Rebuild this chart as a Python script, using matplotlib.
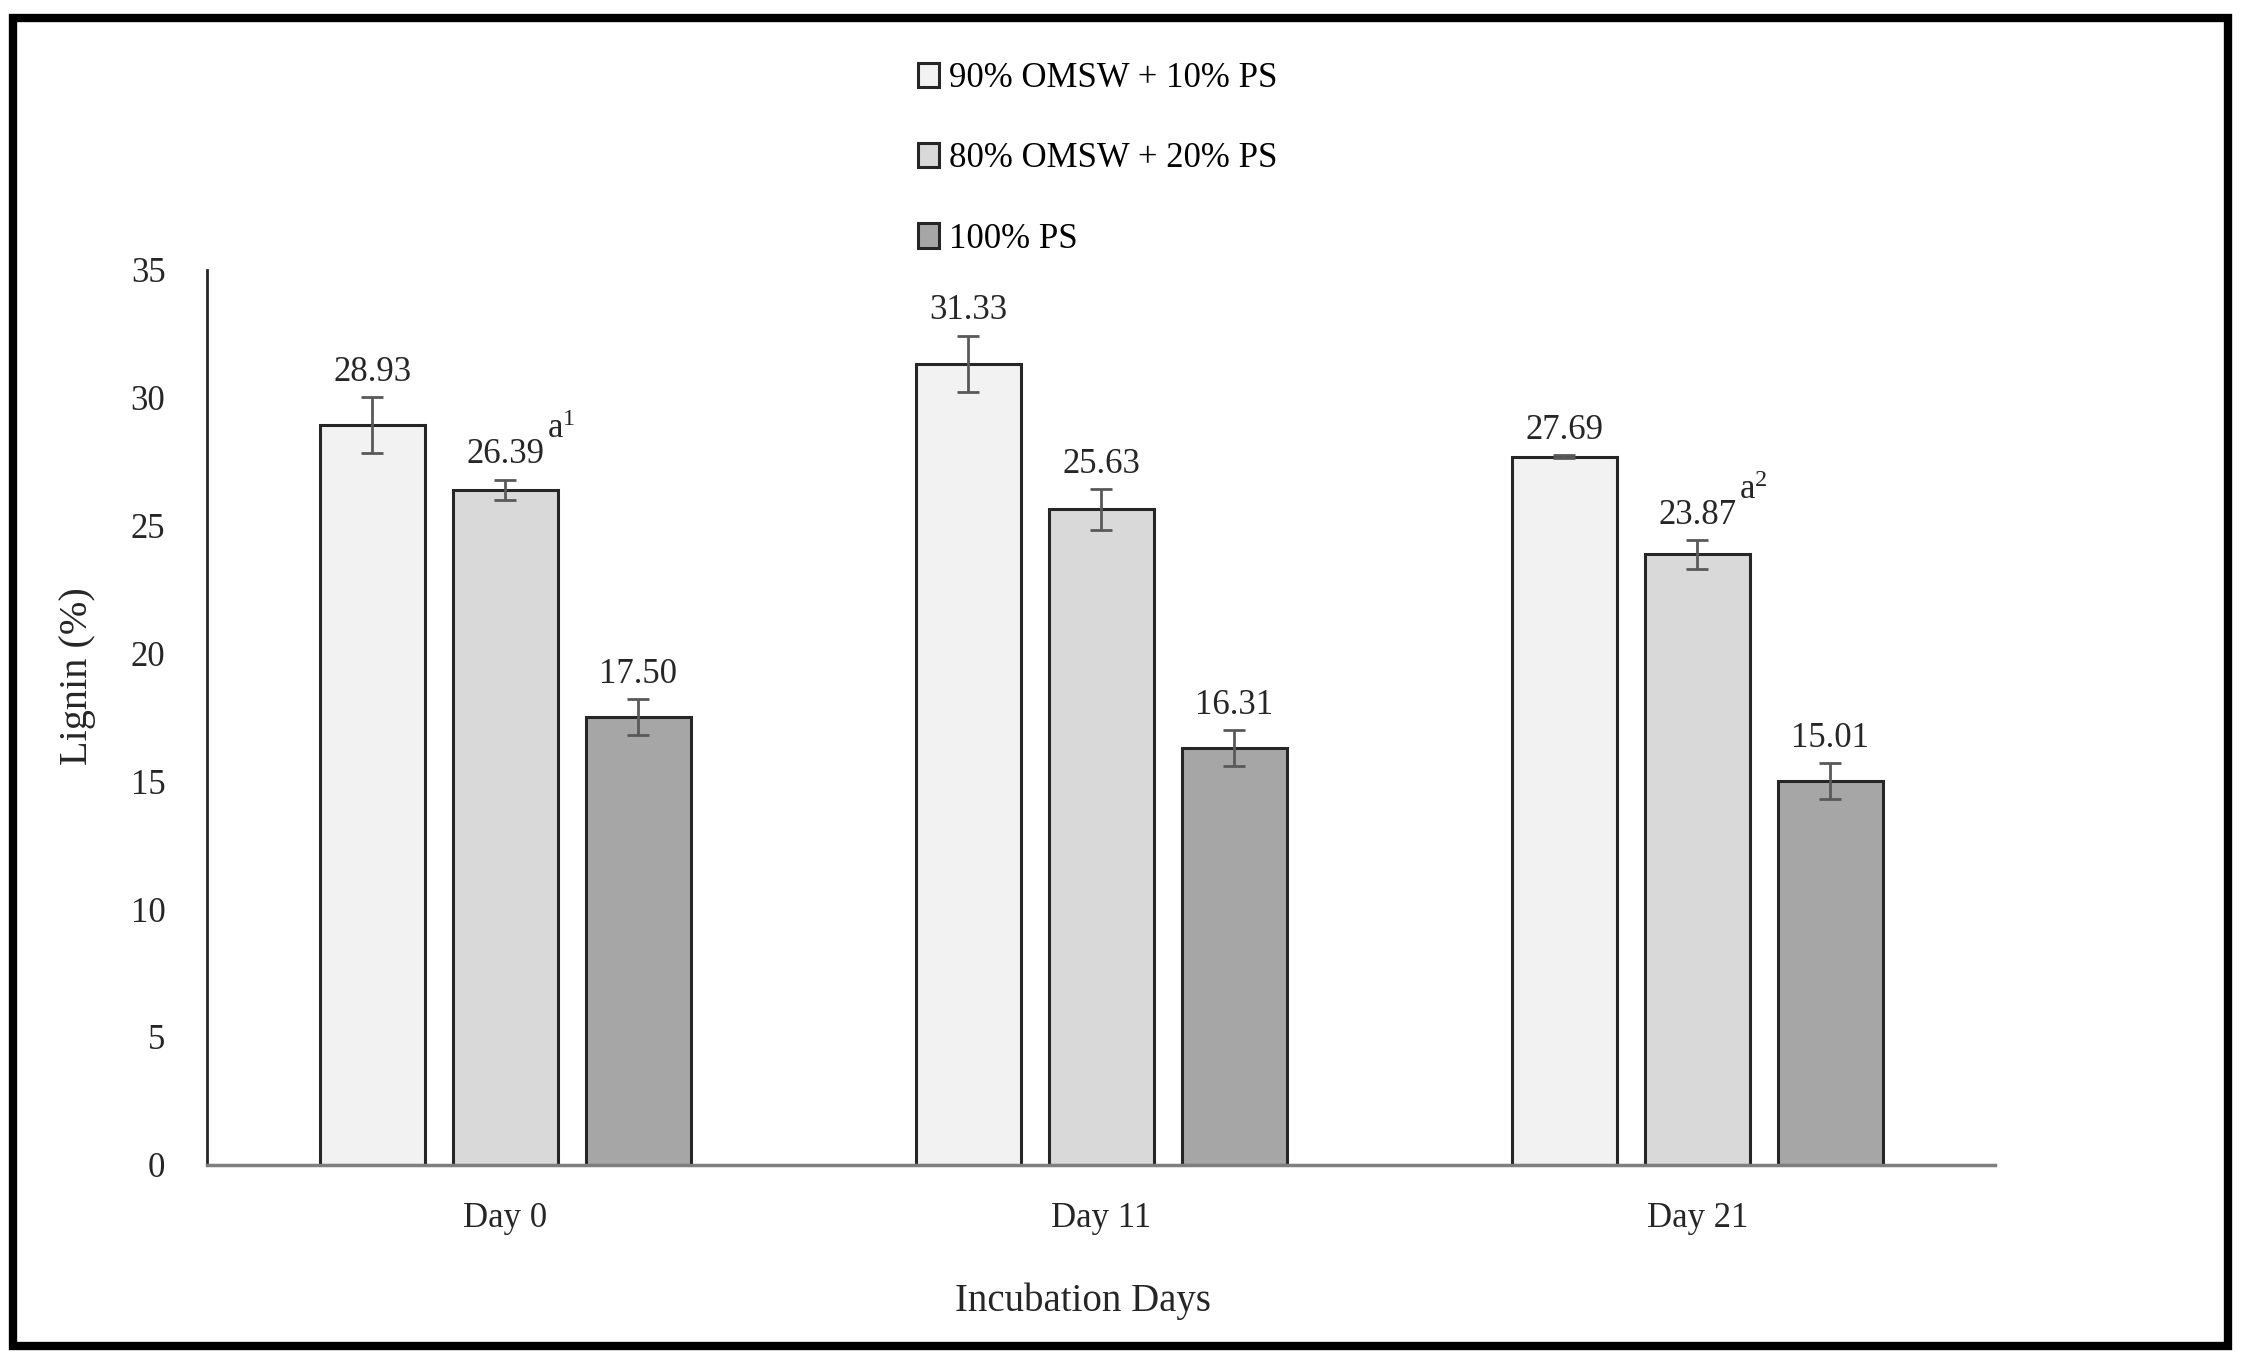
import numpy as np
import matplotlib
matplotlib.use('Agg')
import matplotlib.pyplot as plt
from matplotlib.patches import Rectangle

days = ['Day 0', 'Day 11', 'Day 21']
series = ['90% OMSW + 10% PS', '80% OMSW + 20% PS', '100% PS']
mix90 = [28.93, 31.33, 27.69]
mix80 = [26.39, 25.63, 23.87]
ps100 = [17.50, 16.31, 15.01]
err90 = [1.1, 1.1, 0.05]
err80 = [0.4, 0.8, 0.55]
err100 = [0.7, 0.7, 0.7]
notes80 = ['a$^{1}$', '', 'a$^{2}$']

colors = ['#f2f2f2', '#d9d9d9', '#a6a6a6']

plt.rcParams['font.family'] = ['Liberation Serif', 'DejaVu Serif']
plt.rcParams['mathtext.fontset'] = 'custom'
plt.rcParams['mathtext.rm'] = 'Liberation Serif'
plt.rcParams['mathtext.it'] = 'Liberation Serif'
plt.rcParams['mathtext.default'] = 'regular'

fig = plt.figure(figsize=(22.41, 13.56), dpi=100)
ax = fig.add_axes([0.0924, 0.141, 0.798, 0.660])

x = np.arange(len(days))
width = 0.176
step = 0.223
values = [mix90, mix80, ps100]
errs = [err90, err80, err100]

for i, (vals, er) in enumerate(zip(values, errs)):
    pos = x + (i - 1) * step
    ax.bar(pos, vals, width, color=colors[i], edgecolor='#262626', linewidth=2.2,
           label=series[i], zorder=2)
    ax.errorbar(pos, vals, yerr=er, fmt='none', ecolor='#595959', elinewidth=2,
                capsize=8, capthick=2, zorder=3)
    for p, v, e in zip(pos, vals, er):
        ax.annotate('%.2f' % v, (p, v + e), xytext=(0, 6), textcoords='offset points',
                    ha='center', va='bottom', fontsize=25, color='#262626')

# superscript notes on the middle series
for p, v, e, n in zip(x, mix80, err80, notes80):
    if n:
        ax.annotate(n, (p, v + e), xytext=(30, 24), textcoords='offset points',
                    ha='left', va='bottom', fontsize=25, color='#262626')

ax.set_xlim(-0.5, 2.5)
ax.set_ylim(0, 35)
ax.set_yticks(np.arange(0, 36, 5))
ax.set_xticks(x)
ax.set_xticklabels(days)
ax.tick_params(axis='both', length=0, labelsize=25, colors='#262626')
ax.tick_params(axis='y', pad=30)
ax.tick_params(axis='x', pad=27)
for s in ['top', 'right']:
    ax.spines[s].set_visible(False)
ax.spines['left'].set_color('#262626')
ax.spines['left'].set_linewidth(2)
ax.spines['bottom'].set_color('#7f7f7f')
ax.spines['bottom'].set_linewidth(2.5)

ax.set_ylabel('Lignin (%)', fontsize=29, color='#262626')
ax.set_xlabel('Incubation Days', fontsize=28, color='#262626')
ax.yaxis.set_label_coords(-0.062, 0.546)
ax.xaxis.set_label_coords(0.490, -0.131)

fig.legend(loc='upper left', bbox_to_anchor=(0.402, 0.967), frameon=False,
           fontsize=25, handlelength=0.6, handleheight=0.7, handletextpad=0.3,
           labelspacing=1.36, borderpad=0)

# outer frame
fig.patches.append(Rectangle((0.006, 0.0075), 0.988, 0.979, transform=fig.transFigure,
                             fill=False, edgecolor='black', linewidth=6))

fig.savefig('out.png', dpi=100, facecolor='white')
